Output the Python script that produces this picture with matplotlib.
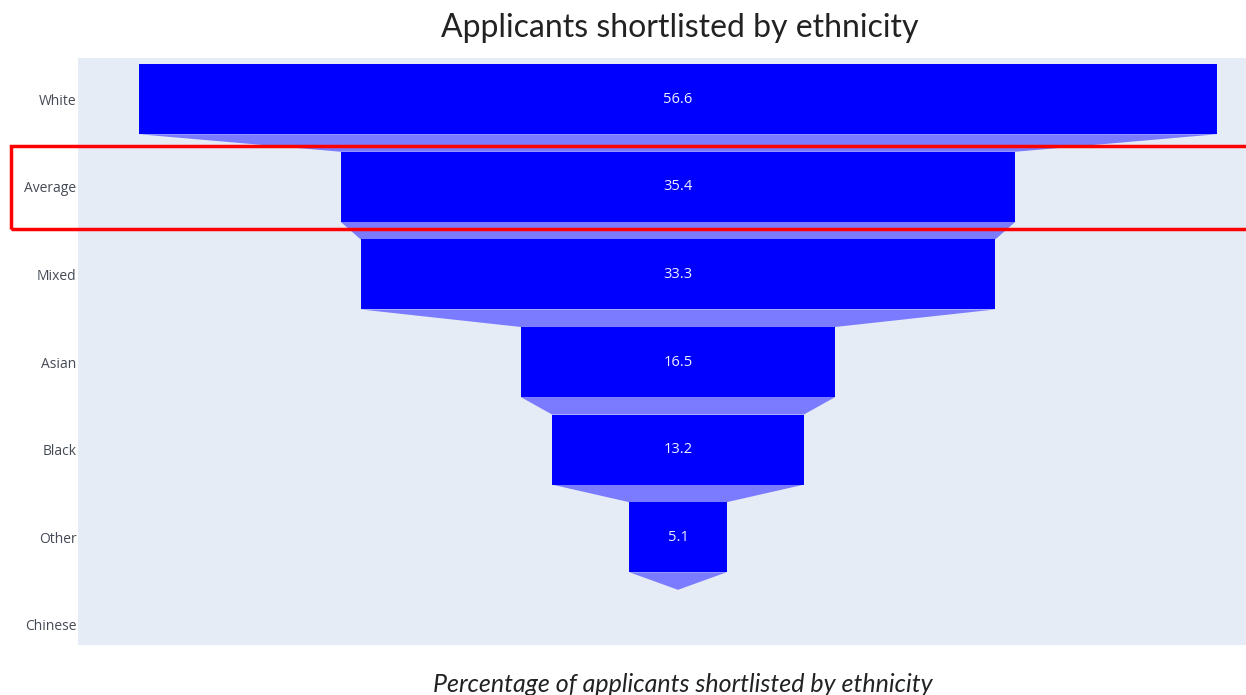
import matplotlib
matplotlib.use("Agg")
import matplotlib.pyplot as plt
from matplotlib.patches import Rectangle, Polygon

# funnel stages, top to bottom
ethnicities = ["White", "Average", "Mixed", "Asian", "Black", "Other", "Chinese"]
shortlisted = [56.6, 35.4, 33.3, 16.5, 13.2, 5.1, 0.0]

BAR_BLUE = "#0000ff"
CONNECTOR_BLUE = "#7b7bff"
BAR_H = 0.8

W, H = 1246, 695
fig = plt.figure(figsize=(W / 100, H / 100), dpi=100)

# plot area runs a little past the right edge of the figure
ax = fig.add_axes([78 / W, 50 / H, 1200 / W, 587 / H])
ax.set_facecolor("#e5ecf6")
ax.set_xlim(-31.48, 31.48)
ax.set_ylim(6.23, -0.47)

rows = list(range(len(ethnicities)))

# connectors between consecutive bars
for i in range(len(ethnicities) - 1):
    a, b = shortlisted[i], shortlisted[i + 1]
    y0, y1 = rows[i] + BAR_H / 2, rows[i + 1] - BAR_H / 2
    ax.add_patch(Polygon([(-a / 2, y0), (a / 2, y0), (b / 2, y1), (-b / 2, y1)],
                         closed=True, facecolor=CONNECTOR_BLUE, edgecolor="none"))

ax.barh(rows, shortlisted, left=[-v / 2 for v in shortlisted], height=BAR_H,
        color=BAR_BLUE, edgecolor="none")

for r, v in zip(rows, shortlisted):
    if v > 0:
        ax.text(0, r, f"{v:.1f}", ha="center", va="center", color="#f0f0ff",
                fontsize=10.5, family="Open Sans")

ax.set_yticks(rows)
ax.set_yticklabels(ethnicities, family="Open Sans", fontsize=10, color="#444a55")
ax.set_xticks([])
ax.tick_params(axis="y", length=0, pad=1)
for s in ax.spines.values():
    s.set_visible(False)

fig.text(680 / W, 1 - 28 / H, "Applicants shortlisted by ethnicity",
         ha="center", va="center", fontsize=23, family="Lato", color="#222222")
fig.text(683 / W, 1 - 685 / H, "Percentage of applicants shortlisted by ethnicity",
         ha="center", va="center", fontsize=18, family="Lato", style="italic",
         color="#222222")

# highlight box around the average row
fig.patches.append(Rectangle((11 / W, 1 - 229 / H), 1250 / W, 83 / H,
                             transform=fig.transFigure, fill=False,
                             edgecolor="#ff0000", linewidth=2.5))

fig.savefig("out.png", dpi=100)
